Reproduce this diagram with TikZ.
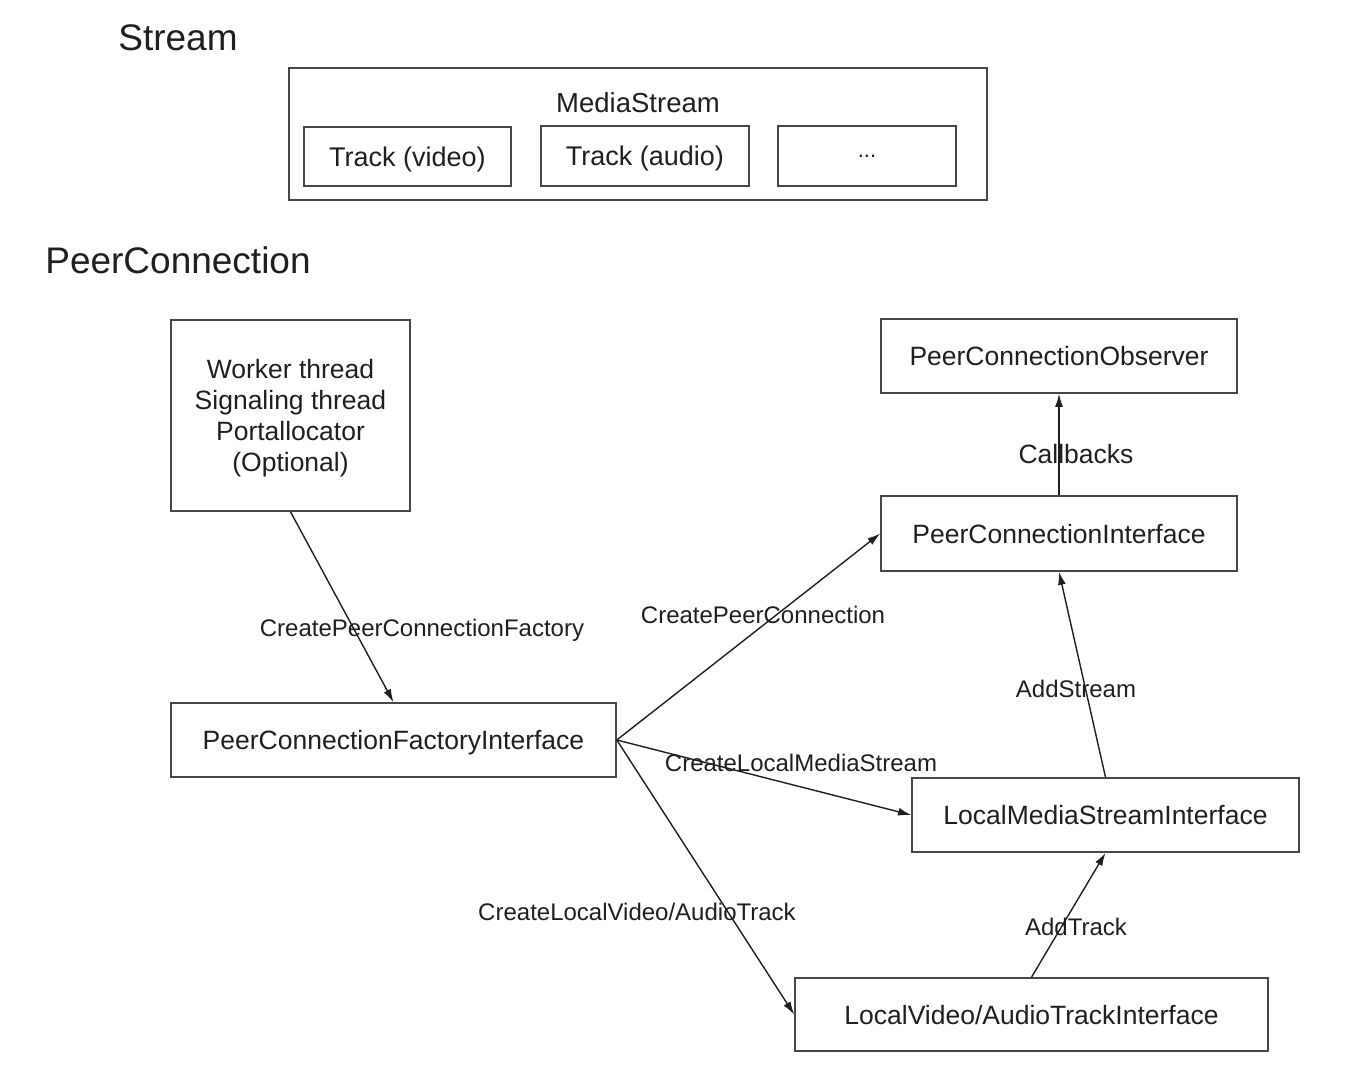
\documentclass[tikz,border=0pt]{standalone}
\usepackage{fontspec}
\setmainfont{Liberation Sans}
\usetikzlibrary{arrows.meta}
\begin{document}
\begin{tikzpicture}[x=1pt,y=-1pt,
  box/.style={draw=black!72, line width=1.6pt, text=black!88, font=\fontsize{26.5}{31}\selectfont, inner sep=0pt, align=center, text depth=0pt},
  lbl/.style={text=black!88, font=\fontsize{24}{28}\selectfont, inner sep=0pt},
  blbl/.style={text=black!88, font=\fontsize{26.5}{31}\selectfont, inner sep=0pt},
  ttl/.style={text=black!88, font=\fontsize{37}{42}\selectfont, inner sep=0pt},
  conn/.style={draw=black!88, line width=1.4pt, -{Latex[length=13pt,width=8pt]}}]
\useasboundingbox (0,0) rectangle (1360,1086);
% titles
\node[ttl] (tstream) at (178,38) {Stream};
\node[ttl] (tpc) at (178,260) {PeerConnection};
% MediaStream group
\node[box, minimum width=698, minimum height=132] (ms) at (638,134) {};
\node[blbl, font=\fontsize{27.5}{31}\selectfont] (mstitle) at (638,103) {MediaStream};
\node[box, font=\fontsize{27}{31}\selectfont, minimum width=207, minimum height=59] (tv) at (407.5,156.5) {Track (video)};
\node[box, font=\fontsize{27}{31}\selectfont, minimum width=208, minimum height=60] (ta) at (645,156) {Track (audio)};
\node[box, font=\fontsize{22}{26}\selectfont, minimum width=178, minimum height=60] (tdots) at (867,156) {...};
% PeerConnection nodes
\node[box, minimum width=239, minimum height=191] (worker) at (290.5,415.5) {};
\node[blbl, align=center] (workertext) at (290.5,418.5) {Worker thread\\Signaling thread\\Portallocator\\(Optional)};
\node[box, minimum width=445, minimum height=74] (pcfi) at (393.5,740) {PeerConnectionFactoryInterface};
\node[box, minimum width=356, minimum height=74] (pco) at (1059,356) {PeerConnectionObserver};
\node[box, minimum width=356, minimum height=75] (pci) at (1059,533.5) {PeerConnectionInterface};
\node[box, minimum width=387, minimum height=74] (lmsi) at (1105.5,815) {LocalMediaStreamInterface};
\node[box, minimum width=473, minimum height=73] (lvati) at (1031.5,1014.5) {LocalVideo/AudioTrackInterface};
% connectors
\draw[conn] (worker.south) -- (pcfi.north);
\draw[conn] (pcfi.east) -- (pci.west);
\draw[conn] (pcfi.east) -- (lmsi.west);
\draw[conn] (pcfi.east) -- (lvati.west);
\draw[conn] (lmsi.north) -- (pci.south);
\draw[conn] (lvati.north) -- (lmsi.south);
\draw[conn] (pci.north) -- (pco.south);
% labels
\node[lbl] (l1) at (422,630) {CreatePeerConnectionFactory};
\node[lbl] (l2) at (763,615) {CreatePeerConnection};
\node[lbl] (l3) at (801,763) {CreateLocalMediaStream};
\node[lbl] (l4) at (637,912) {CreateLocalVideo/AudioTrack};
\node[lbl] (l5) at (1076,689) {AddStream};
\node[lbl] (l6) at (1076,927) {AddTrack};
\node[blbl] (l7) at (1076,454) {Callbacks};
\end{tikzpicture}
\end{document}
